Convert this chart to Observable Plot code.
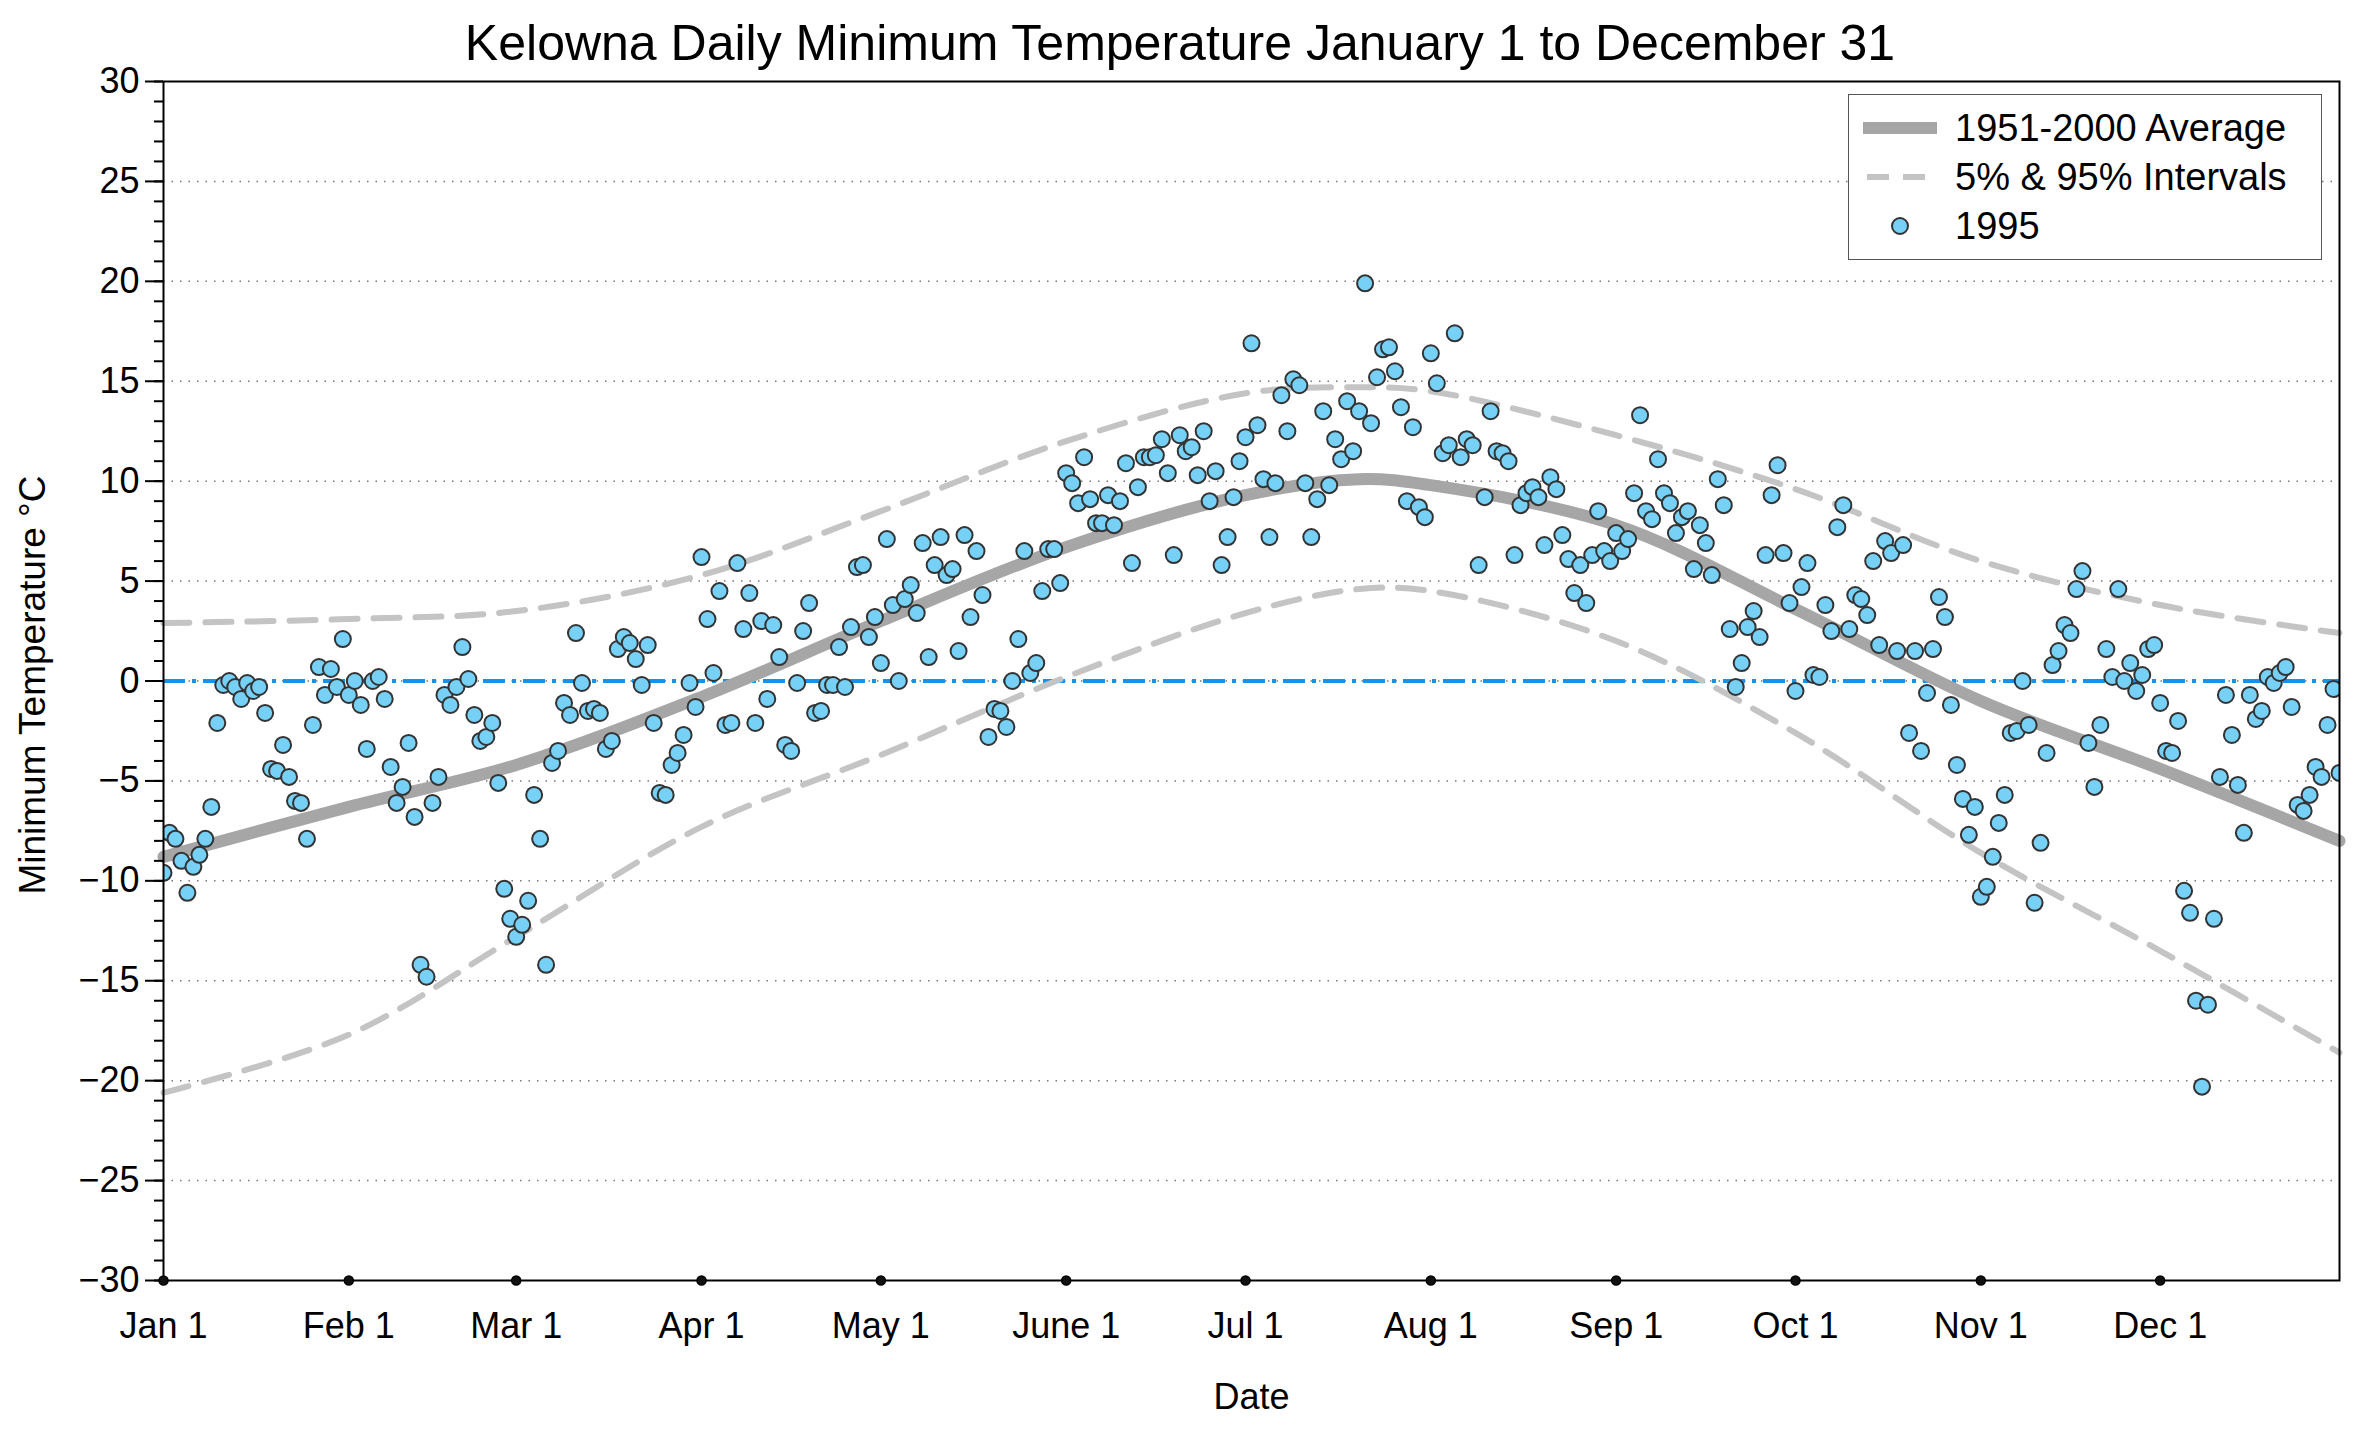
<!DOCTYPE html>
<html><head><meta charset="utf-8">
<script src="https://cdn.jsdelivr.net/npm/d3@7"></script>
<script src="https://cdn.jsdelivr.net/npm/@observablehq/plot@0.6"></script>
<style>
body{margin:0;background:#fff;font-family:"Liberation Sans",Arial,sans-serif;}
#wrap{position:relative;width:2360px;height:1432px;}
#title{height:68px;text-align:center;font-size:50px;line-height:86px;color:#000;}
#legend{position:absolute;left:1848px;top:94px;width:472px;height:164px;border:1.5px solid #555;background:#fff;font-size:38px;}
.li{position:absolute;left:0;height:50px;display:flex;align-items:center;}
.li svg{margin-left:14px;margin-right:18px;}
#ylab{position:absolute;left:33px;top:685px;transform:translate(-50%,-50%) rotate(-90deg);font-size:37px;white-space:nowrap;}
</style></head>
<body><div id="wrap"><div id="title">Kelowna Daily Minimum Temperature January 1 to December 31</div><div id="chart"></div>
<div id="ylab">Minimum Temperature °C</div>
<div id="legend">
<div class="li" style="top:8px"><svg width="74" height="20"><line x1="0" y1="10" x2="74" y2="10" stroke="#a6a6a6" stroke-width="12"/></svg>1951-2000 Average</div>
<div class="li" style="top:57px"><svg width="74" height="20"><line x1="4" y1="10" x2="74" y2="10" stroke="#c4c4c4" stroke-width="6" stroke-dasharray="22,14"/></svg>5% &amp; 95% Intervals</div>
<div class="li" style="top:106px"><svg width="74" height="20"><circle cx="37" cy="10" r="8" fill="#77d1f7" stroke="#333" stroke-width="2"/></svg>1995</div>
</div></div>
<script>
const monthStarts = [1,32,60,91,121,152,182,213,244,274,305,335];
const monthLabels = ["Jan 1","Feb 1","Mar 1","Apr 1","May 1","June 1","Jul 1","Aug 1","Sep 1","Oct 1","Nov 1","Dec 1"];
const jan=[-9.6,-7.6,-7.9,-9.0,-10.6,-9.3,-8.7,-7.9,-6.3,-2.1,-0.2,0,-0.3,-0.9,-0.1,-0.5,-0.3,-1.6,-4.4,-4.5,-3.2,-4.8,-6.0,-6.1,-7.9,-2.2,0.7,-0.7,0.6,-0.3,2.1];
const feb=[-0.7,0,-1.2,-3.4,0.0,0.2,-0.9,-4.3,-6.1,-5.3,-3.1,-6.8,-14.2,-14.8,-6.1,-4.8,-0.7,-1.2,-0.3,1.7,0.1,-1.7,-3.0,-2.8,-2.1,-5.1,-10.4,-11.9];
const mar=[-12.8,-12.2,-11.0,-5.7,-7.9,-14.2,-4.1,-3.5,-1.1,-1.7,2.4,-0.1,-1.5,-1.4,-1.6,-3.4,-3.0,1.6,2.2,1.9,1.1,-0.2,1.8,-2.1,-5.6,-5.7,-4.2,-3.6,-2.7,-0.1,-1.3];
const apr=[6.2,3.1,0.4,4.5,-2.2,-2.1,5.9,2.6,4.4,-2.1,3.0,-0.9,2.8,1.2,-3.2,-3.5,-0.1,2.5,3.9,-1.6,-1.5,-0.2,-0.2,1.7,-0.3,2.7,5.7,5.8,2.2,3.2];
const may=[0.9,7.1,3.8,0,4.1,4.8,3.4,6.9,1.2,5.8,7.2,5.3,5.6,1.5,7.3,3.2,6.5,4.3,-2.8,-1.4,-1.5,-2.3,0.0,2.1,6.5,0.4,0.9,4.5,6.6,6.6,4.9];
const jun=[10.4,9.9,8.9,11.2,9.1,7.9,7.9,9.3,7.8,9.0,10.9,5.9,9.7,11.2,11.2,11.3,12.1,10.4,6.3,12.3,11.5,11.7,10.3,12.5,9.0,10.5,5.8,7.2,9.2,11.0];
const jul=[12.2,16.9,12.8,10.1,7.2,9.9,14.3,12.5,15.1,14.8,9.9,7.2,9.1,13.5,9.8,12.1,11.1,14.0,11.5,13.5,19.9,12.9,15.2,16.6,16.7,15.5,13.7,9.0,12.7,8.7,8.2];
const aug=[16.4,14.9,11.4,11.8,17.4,11.2,12.1,11.8,5.8,9.2,13.5,11.5,11.4,11.0,6.3,8.8,9.4,9.7,9.2,6.8,10.2,9.6,7.3,6.1,4.4,5.8,3.9,6.3,8.5,6.5,6.0];
const sep=[7.4,6.5,7.1,9.4,13.3,8.5,8.1,11.1,9.4,8.9,7.4,8.2,8.5,5.6,7.8,6.9,5.3,10.1,8.8,2.6,-0.3,0.9,2.7,3.5,2.2,6.3,9.3,10.8,6.4,3.9];
const oct=[-0.5,4.7,5.9,0.3,0.2,3.8,2.5,7.7,8.8,2.6,4.3,4.1,3.3,6.0,1.8,7.0,6.4,1.5,6.8,-2.6,1.5,-3.5,-0.6,1.6,4.2,3.2,-1.2,-4.2,-5.9,-7.7,-6.3];
const nov=[-10.8,-10.3,-8.8,-7.1,-5.7,-2.6,-2.5,0,-2.2,-11.1,-8.1,-3.6,0.8,1.5,2.8,2.4,4.6,5.5,-3.1,-5.3,-2.2,1.6,0.2,4.6,0,0.9,-0.5,0.3,1.6,1.8];
const dec=[-1.1,-3.5,-3.6,-2.0,-10.5,-11.6,-16.0,-20.3,-16.2,-11.9,-4.8,-0.7,-2.7,-5.2,-7.6,-0.7,-1.9,-1.5,0.2,-0.1,0.4,0.7,-1.3,-6.2,-6.5,-5.7,-4.3,-4.8,-2.2,-0.4,-4.6];
const curveDays=[1,32,60,91,121,152,182,201,213,244,274,305,335,365];
const avg=[-8.8,-6.3,-4.2,-0.8,3.0,6.7,9.3,10.1,9.8,7.8,3.6,-1.0,-4.4,-8.0];
const p95=[2.9,3.1,3.5,5.3,8.5,12.0,14.4,14.7,14.5,12.3,9.6,6.0,3.8,2.4];
const p5=[-20.6,-17.7,-12.8,-7.3,-3.7,0.2,3.4,4.6,4.5,2.0,-2.6,-8.6,-13.5,-18.6];

const months=[jan,feb,mar,apr,may,jun,jul,aug,sep,oct,nov,dec];
const pts=months.flatMap((m,i)=>m.map((v,j)=>({day:monthStarts[i]+j,t:v})));
const curve=(vals)=>curveDays.map((d,i)=>({day:d,t:vals[i]}));

const chart=Plot.plot({
  width:2360,height:1364,
  marginLeft:163,marginRight:21,marginTop:13,marginBottom:152,
  style:{fontFamily:"Liberation Sans, Arial, sans-serif",fontSize:"36px",color:"#000",background:"#fff",overflow:"visible"},
  x:{type:"linear",domain:[1,365]},
  y:{type:"linear",domain:[-30,30]},
  marks:[
    Plot.ruleY(d3.range(-25,30,5),{stroke:"#777",strokeDasharray:"1.5,7",strokeWidth:1.5}),
    Plot.ruleY([0],{stroke:"#1592ea",strokeWidth:4,strokeDasharray:"22,7,4,7"}),
    Plot.line(curve(p95),{x:"day",y:"t",stroke:"#c4c4c4",strokeWidth:6,strokeDasharray:"26,16",curve:"catmull-rom"}),
    Plot.line(curve(p5),{x:"day",y:"t",stroke:"#c4c4c4",strokeWidth:6,strokeDasharray:"26,16",curve:"catmull-rom"}),
    Plot.line(curve(avg),{x:"day",y:"t",stroke:"#a6a6a6",strokeWidth:12,curve:"catmull-rom"}),
    Plot.dot(pts,{x:"day",y:"t",r:8,fill:"#77d1f7",stroke:"#333",strokeWidth:2,clip:true}),
    Plot.frame({stroke:"#000",strokeWidth:2}),
    Plot.axisY(d3.range(-30,31,1),{tickSize:9,tickFormat:()=>"",strokeWidth:2,label:null}),
    Plot.axisY(d3.range(-30,31,5),{tickSize:18,tickPadding:6,strokeWidth:2,tickFormat:d=>d<0?"\u2212"+(-d):String(d),fontSize:36,label:null}),
    Plot.axisX(monthStarts,{tickSize:0,tickPadding:32,tickFormat:(d,i)=>monthLabels[i],fontSize:36,label:null}),
    Plot.dot(monthStarts,{x:d=>d,y:-30,r:4.5,fill:"#111",stroke:"#000"}),
    Plot.text(["Date"],{frameAnchor:"bottom",dy:128,fontSize:36})
  ]
});
document.getElementById("chart").appendChild(chart);
</script></body></html>
